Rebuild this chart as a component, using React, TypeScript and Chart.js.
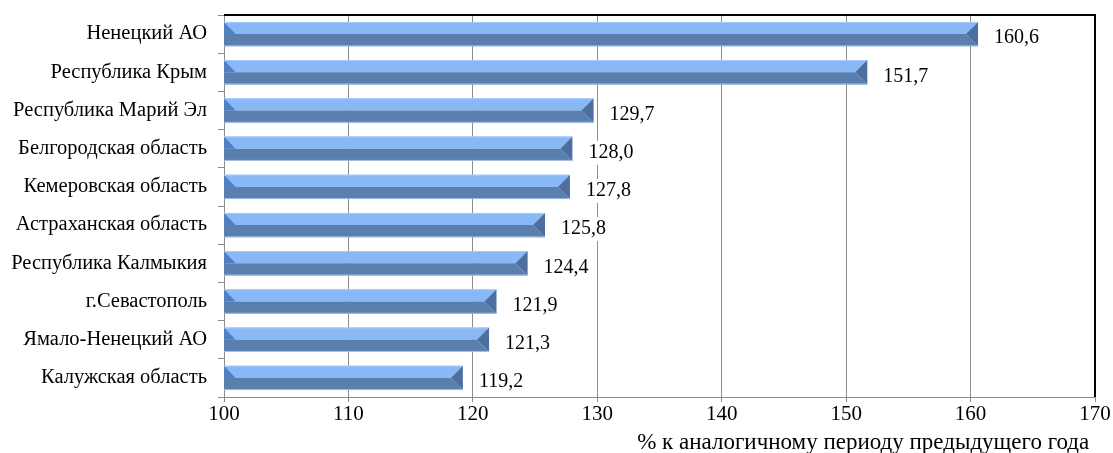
import React, { useEffect, useRef } from "react";
import { Chart, registerables } from "chart.js";

Chart.register(...registerables);

const categories = [
  "Ненецкий АО",
  "Республика Крым",
  "Республика Марий Эл",
  "Белгородская область",
  "Кемеровская область",
  "Астраханская область",
  "Республика Калмыкия",
  "г.Севастополь",
  "Ямало-Ненецкий АО",
  "Калужская область",
];
const values = [160.6, 151.7, 129.7, 128.0, 127.8, 125.8, 124.4, 121.9, 121.3, 119.2];
const axisMin = 100;
const axisMax = 170;
const axisStep = 10;
const axisTitle = "% к аналогичному периоду предыдущего года";

const FONT = "'Liberation Serif', 'Times New Roman', serif";

const bevelPlugin = {
  id: "bevelBars",
  afterDatasetsDraw(chart: any) {
    const ctx = chart.ctx;
    const meta = chart.getDatasetMeta(0);
    meta.data.forEach((el: any, i: number) => {
      const x0 = el.base;
      const x1 = el.x;
      const h = el.height;
      const top = el.y - h / 2;
      const bot = el.y + h / 2;
      const mid = el.y;
      const d = h / 2;
      ctx.save();
      ctx.fillStyle = "#88B8F6";
      ctx.beginPath();
      ctx.moveTo(x0, top);
      ctx.lineTo(x1, top);
      ctx.lineTo(x1 - d, mid);
      ctx.lineTo(x0, mid);
      ctx.closePath();
      ctx.fill();
      ctx.fillStyle = "#5A7FAF";
      ctx.beginPath();
      ctx.moveTo(x0, mid);
      ctx.lineTo(x1 - d, mid);
      ctx.lineTo(x1, bot);
      ctx.lineTo(x0, bot);
      ctx.closePath();
      ctx.fill();
      ctx.fillStyle = "#4C6F9F";
      ctx.beginPath();
      ctx.moveTo(x1, top);
      ctx.lineTo(x1 - d, mid);
      ctx.lineTo(x1, bot);
      ctx.closePath();
      ctx.fill();
      ctx.fillStyle = "#4F80C4";
      ctx.beginPath();
      ctx.moveTo(x0, top);
      ctx.lineTo(x0 + d * 0.95, mid);
      ctx.lineTo(x0, mid);
      ctx.closePath();
      ctx.fill();
      ctx.fillStyle = "#A6CBF8";
      ctx.fillRect(x0, top, x1 - x0 - 1, 1);
      ctx.fillStyle = "#A9C1E2";
      ctx.fillRect(x0, bot - 1, x1 - x0, 1);
      ctx.restore();

      const txt = values[i].toFixed(1).replace(".", ",");
      ctx.save();
      ctx.font = `20px ${FONT}`;
      const w = ctx.measureText(txt).width;
      const lx = x1 + 16;
      const ly = mid + 4;
      ctx.fillStyle = "#ffffff";
      ctx.fillRect(lx - 3, ly - 12, w + 6, 24);
      ctx.fillStyle = "#000000";
      ctx.textAlign = "left";
      ctx.textBaseline = "middle";
      ctx.fillText(txt, lx, ly);
      ctx.restore();
    });
  },
  afterDraw(chart: any) {
    const { ctx, chartArea } = chart;
    ctx.save();
    ctx.strokeStyle = "#000000";
    ctx.lineWidth = 2;
    ctx.beginPath();
    ctx.moveTo(chartArea.left, chartArea.top);
    ctx.lineTo(chartArea.right, chartArea.top);
    ctx.lineTo(chartArea.right, chartArea.bottom);
    ctx.stroke();
    ctx.restore();
  },
};

export default function App() {
  const ref = useRef<HTMLCanvasElement>(null);
  useEffect(() => {
    document.body.style.margin = "0";
    const chart = new Chart(ref.current!, {
      type: "bar",
      data: {
        labels: categories,
        datasets: [
          {
            data: values.map((v) => [axisMin, v]),
            backgroundColor: "rgba(0,0,0,0)",
            borderWidth: 0,
            categoryPercentage: 0.64,
            barPercentage: 1,
          },
        ],
      },
      options: {
        indexAxis: "y",
        animation: false,
        responsive: false,
        maintainAspectRatio: false,
        layout: { padding: { top: 15, right: 18, left: 0, bottom: 0 } },
        plugins: {
          legend: { display: false },
          tooltip: { enabled: false },
          title: { display: false },
        },
        scales: {
          x: {
            min: axisMin,
            max: axisMax,
            ticks: {
              stepSize: axisStep,
              color: "#000",
              font: { family: FONT, size: 21 },
              padding: 0,
              callback: (v: any) => String(v),
            },
            grid: {
              color: "#8C8C8C",
              lineWidth: 1,
              tickLength: 5,
              drawTicks: true,
            },
            border: { color: "#8C8C8C", width: 1 },
            title: {
              display: true,
              text: axisTitle + " ",
              align: "end",
              color: "#000",
              font: { family: FONT, size: 23 },
              padding: { top: 0, bottom: -4 },
            },
            afterFit: (s: any) => {
              s.height = 56;
            },
          },
          y: {
            ticks: {
              color: "#000",
              font: { family: FONT, size: 20.5, lineHeight: 0.3 },
              padding: 11,
            },
            grid: {
              drawOnChartArea: false,
              drawTicks: true,
              tickLength: 6,
              color: "#8C8C8C",
            },
            border: { color: "#8C8C8C", width: 1 },
            afterFit: (s: any) => {
              s.width = 224;
            },
          },
        },
      },
      plugins: [bevelPlugin],
    });
    return () => chart.destroy();
  }, []);
  return (
    <div style={{ width: 1113, height: 453 }}>
      <canvas ref={ref} width={1113} height={453} style={{ display: "block" }} />
    </div>
  );
}
